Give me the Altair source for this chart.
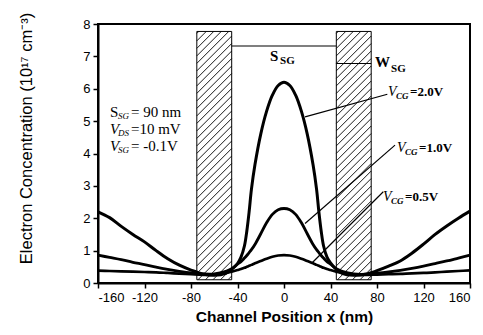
import altair as alt
import pandas as pd
import numpy as np

# ---------------- data ----------------
x_nm = [-160, -150, -140, -130, -120, -110, -100, -90, -80, -70, -60, -50,
        -45, -40, -37, -34, -32, -30, -28, -25, -20, -15, -10, -5, 0,
        5, 10, 15, 20, 25, 28, 30, 32, 34, 37, 40, 45,
        50, 60, 70, 80, 90, 100, 110, 120, 130, 140, 150, 160]

vcg_20 = [2.2, 2.02, 1.75, 1.5, 1.27, 1.0, 0.75, 0.55, 0.4, 0.28, 0.24, 0.3,
          0.42, 0.6, 0.8, 1.15, 1.6, 2.2, 2.9, 3.65, 4.6, 5.3, 5.8, 6.1, 6.2,
          6.1, 5.8, 5.3, 4.6, 3.65, 2.9, 2.2, 1.6, 1.15, 0.8, 0.62, 0.42,
          0.3, 0.24, 0.27, 0.38, 0.52, 0.68, 0.92, 1.2, 1.5, 1.76, 2.0, 2.22]

vcg_10 = [0.86, 0.79, 0.72, 0.64, 0.57, 0.49, 0.42, 0.36, 0.31, 0.28, 0.28, 0.36,
          0.44, 0.58, 0.66, 0.77, 0.85, 0.94, 1.03, 1.19, 1.52, 1.86, 2.12, 2.26, 2.3,
          2.26, 2.12, 1.86, 1.52, 1.19, 1.03, 0.94, 0.85, 0.77, 0.66, 0.58, 0.44,
          0.36, 0.28, 0.27, 0.3, 0.34, 0.39, 0.45, 0.52, 0.6, 0.68, 0.77, 0.86]

vcg_05 = [0.38, 0.37, 0.36, 0.35, 0.34, 0.33, 0.31, 0.29, 0.27, 0.25, 0.26, 0.31,
          0.35, 0.4, 0.43, 0.47, 0.5, 0.53, 0.56, 0.61, 0.68, 0.75, 0.81, 0.85, 0.86,
          0.85, 0.81, 0.75, 0.68, 0.61, 0.56, 0.53, 0.5, 0.47, 0.43, 0.4, 0.35,
          0.31, 0.26, 0.25, 0.26, 0.27, 0.28, 0.3, 0.31, 0.33, 0.35, 0.37, 0.39]

series_names = ["2.0V", "1.0V", "0.5V"]

gate_x0 = [-75, 45]
gate_x1 = [-45, 75]
gate_y0 = [0.1, 0.1]
gate_y1 = [7.77, 7.77]

x_ticks = [-160, -120, -80, -40, 0, 40, 80, 120, 160]
y_ticks = [0, 1, 2, 3, 4, 5, 6, 7, 8]

# ---------------- layout ----------------
W, H = 372, 259
XMIN, XMAX, YMIN, YMAX = -160, 160, 0, 8
SERIF = "Liberation Serif"
SANS = "Liberation Sans"

xs = alt.Scale(domain=[XMIN, XMAX], nice=False, zero=False)
ys = alt.Scale(domain=[YMIN, YMAX], nice=False, zero=False)

X_AXIS = alt.Axis(values=x_ticks, title="Channel Position x (nm)",
                  labelExpr="'' + datum.value", titleFontWeight="bold",
                  titleFontSize=15.5, titlePadding=5, labelOverlap=False)
Y_AXIS = alt.Axis(values=y_ticks, title="Electron Concentration (10¹⁷ cm⁻³)",
                  titleFontWeight="normal", titleFontSize=16.5,
                  titlePadding=48, titleY=114, labelOverlap=False)


def qx(f):
    return alt.X(f, scale=xs, axis=X_AXIS)


def qy(f):
    return alt.Y(f, scale=ys, axis=Y_AXIS)


# curves
rows = []
for name, vals in zip(series_names, [vcg_20, vcg_10, vcg_05]):
    for xv, yv in zip(x_nm, vals):
        rows.append({"x": xv, "y": yv, "series": name})
curves_df = pd.DataFrame(rows)

curves = alt.Chart(curves_df).mark_line(color="black", interpolate="catmull-rom").encode(
    x=qx("x:Q"),
    y=qy("y:Q"),
    detail="series:N",
    strokeWidth=alt.StrokeWidth("series:N",
                                scale=alt.Scale(domain=series_names, range=[3, 2.7, 2.2]),
                                legend=None),
)

# gate rectangles
gates_df = pd.DataFrame({"x0": gate_x0, "x1": gate_x1, "y0": gate_y0, "y1": gate_y1})
gates = alt.Chart(gates_df).mark_rect(fill="white", fillOpacity=0, stroke="black",
                                      strokeWidth=1).encode(
    x=qx("x0:Q"), x2="x1:Q", y=qy("y0:Q"), y2="y1:Q")

# hatch lines derived from the gate rectangles (45 degree in pixel space)
sx = W / (XMAX - XMIN)
sy = H / (YMAX - YMIN)
spacing = 7.5
hrows = []
for x0, x1, y0, y1 in zip(gate_x0, gate_x1, gate_y0, gate_y1):
    u0, u1 = (x0 - XMIN) * sx, (x1 - XMIN) * sx
    v0, v1 = (y0 - YMIN) * sy, (y1 - YMIN) * sy
    for c in np.arange(v0 - u1 + spacing / 2, v1 - u0, spacing):
        ua = max(u0, v0 - c)
        ub = min(u1, v1 - c)
        if ub - ua > 0.5:
            hrows.append({"xa": ua / sx + XMIN, "ya": (ua + c) / sy + YMIN,
                          "xb": ub / sx + XMIN, "yb": (ub + c) / sy + YMIN})
hatch_df = pd.DataFrame(hrows)
hatch = alt.Chart(hatch_df).mark_rule(color="black", strokeWidth=0.9).encode(
    x=qx("xa:Q"), y=qy("ya:Q"), x2="xb:Q", y2="yb:Q")

# leader and dimension lines (annotation geometry)
lines_df = pd.DataFrame({
    "xa": [18.1, 18.1, 23.8, -45, 45],
    "ya": [5.13, 1.84, 0.61, 7.32, 6.78],
    "xb": [88.9, 95.5, 85.4, 45, 75],
    "yb": [5.83, 4.26, 2.82, 7.32, 6.78],
})
leaders = alt.Chart(lines_df).mark_rule(color="black", strokeWidth=1.2).encode(
    x=qx("xa:Q"), y=qy("ya:Q"), x2="xb:Q", y2="yb:Q")

# text annotations: (text, x, y, dx, dy, size, style, weight)
ann = [
    # S_SG label
    ("S", -12.0, 7.01, 0, 0, 15, "normal", "bold"),
    ("SG", -12.0, 7.01, 10, 5, 11, "normal", "bold"),
    # W_SG label
    ("W", 78.3, 6.83, 0, 0, 15, "normal", "bold"),
    ("SG", 78.3, 6.83, 16, 7, 11, "normal", "bold"),
    # V_CG labels
    ("V", 89.5, 5.9, 0, 0, 14, "italic", "normal"),
    ("CG", 89.5, 5.9, 8, 4, 9, "italic", "bold"),
    ("=2.0V", 89.5, 5.9, 22, 0, 13, "normal", "bold"),
    ("V", 97.2, 4.17, 0, 0, 14, "italic", "normal"),
    ("CG", 97.2, 4.17, 8, 4, 9, "italic", "bold"),
    ("=1.0V", 97.2, 4.17, 22, 0, 13, "normal", "bold"),
    ("V", 85.2, 2.66, 0, 0, 14, "italic", "normal"),
    ("CG", 85.2, 2.66, 8, 4, 9, "italic", "bold"),
    ("=0.5V", 85.2, 2.66, 22, 0, 13, "normal", "bold"),
    # parameter block
    ("S", -149.7, 5.28, 0, 0, 15, "normal", "normal"),
    ("SG", -149.7, 5.28, 8, 4, 9, "italic", "normal"),
    ("= 90 nm", -149.7, 5.28, 21, 0, 15, "normal", "normal"),
    ("V", -149.7, 4.76, 0, 0, 15, "italic", "normal"),
    ("DS", -149.7, 4.76, 8, 4, 9, "italic", "normal"),
    ("=10 mV", -149.7, 4.76, 21, 0, 15, "normal", "normal"),
    ("V", -149.7, 4.23, 0, 0, 15, "italic", "normal"),
    ("SG", -149.7, 4.23, 8, 4, 9, "italic", "normal"),
    ("= -0.1V", -149.7, 4.23, 21, 0, 15, "normal", "normal"),
]

text_layers = []
for t, xv, yv, dx, dy, size, style, weight in ann:
    text_layers.append(
        alt.Chart(pd.DataFrame({"t": [t], "x": [xv], "y": [yv]})).mark_text(
            align="left", baseline="middle", dx=dx, dy=dy, font=SERIF,
            fontSize=size, fontStyle=style, fontWeight=weight, color="black"
        ).encode(x=qx("x:Q"), y=qy("y:Q"), text="t:N")
    )

chart = alt.layer(curves, gates, hatch, leaders, *text_layers).properties(
    width=W, height=H,
    padding={"left": 98, "top": 24, "right": 13, "bottom": 52},
    autosize=alt.AutoSizeParams(type="none"),
    background="white",
).configure_view(
    stroke="black", strokeWidth=2
).configure_axis(
    grid=False, domainColor="black", domainWidth=2, tickColor="black",
    tickWidth=1.5, tickSize=5, labelFont=SANS, labelFontSize=13,
    labelColor="black", titleFont=SANS, titleColor="black", labelPadding=3,
)

chart.save("out.html", embed_options={"renderer": "svg", "actions": False})
